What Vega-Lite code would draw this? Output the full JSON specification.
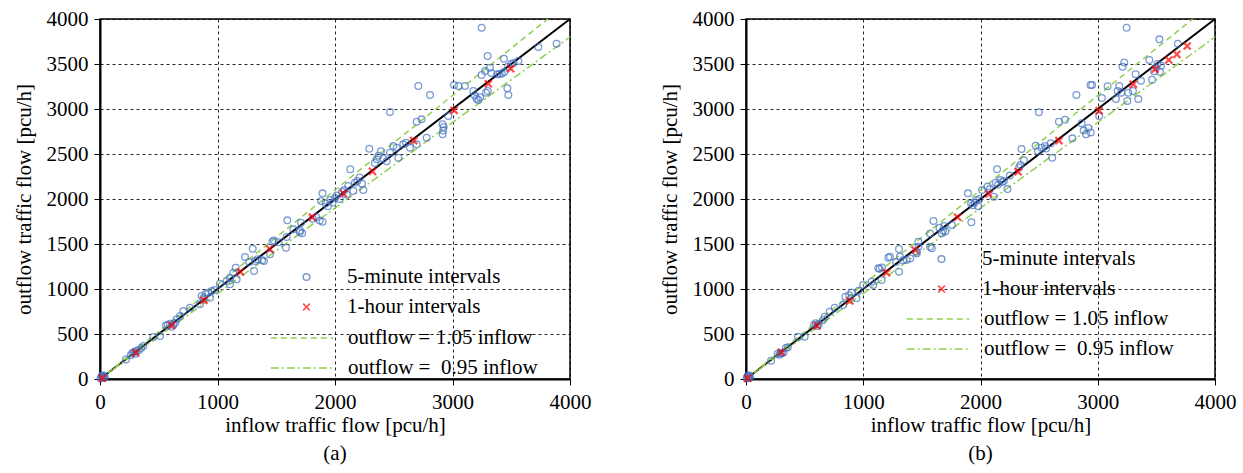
{
  "$schema": "https://vega.github.io/schema/vega-lite/v6.json",
  "background": "white",
  "padding": {"left": 12, "top": 7, "right": 5, "bottom": 5},
  "spacing": 66,
  "config": {
    "view": {"stroke": "#000", "strokeWidth": 1.5},
    "axis": {
      "domainColor": "#000", "domainWidth": 2, "tickColor": "#000", "tickSize": 6, "tickWidth": 1,
      "gridColor": "#000", "gridDash": [3, 3], "gridWidth": 1, "gridOpacity": 0.85,
      "labelFont": "Liberation Serif", "labelFontSize": 21, "labelColor": "#000", "labelPadding": 6, "format": "d", "labelFlush": false,
      "titleFont": "Liberation Serif", "titleFontSize": 21, "titleFontWeight": "normal", "titleColor": "#000"
    },
    "legend": {"labelFont": "Liberation Serif", "labelFontSize": 21, "labelColor": "#000", "labelLimit": 400},
    "title": {"font": "Liberation Serif", "fontSize": 21, "fontWeight": "normal", "color": "#000"}
  },
  "resolve": {
    "scale": {"color": "independent", "shape": "independent", "strokeDash": "independent"},
    "legend": {"color": "independent", "shape": "independent", "strokeDash": "independent"}
  },
  "datasets": {
    "lines": [
      {"ref": "y = x", "inflow": 0, "outflow": 0},
      {"ref": "y = x", "inflow": 4000, "outflow": 4000},
      {"ref": "outflow = 1.05 inflow", "inflow": 0, "outflow": 0},
      {"ref": "outflow = 1.05 inflow", "inflow": 3810, "outflow": 4000},
      {"ref": "outflow = \u00a00.95 inflow", "inflow": 0, "outflow": 0},
      {"ref": "outflow = \u00a00.95 inflow", "inflow": 4000, "outflow": 3800}
    ],
    "a": [
      {"series": "5-minute intervals", "inflow": 5, "outflow": 5},
      {"series": "5-minute intervals", "inflow": 12, "outflow": 20},
      {"series": "5-minute intervals", "inflow": 20, "outflow": 10},
      {"series": "5-minute intervals", "inflow": 25, "outflow": 30},
      {"series": "5-minute intervals", "inflow": 35, "outflow": 15},
      {"series": "5-minute intervals", "inflow": 30, "outflow": 40},
      {"series": "5-minute intervals", "inflow": 15, "outflow": 35},
      {"series": "5-minute intervals", "inflow": 40, "outflow": 25},
      {"series": "5-minute intervals", "inflow": 221, "outflow": 218},
      {"series": "5-minute intervals", "inflow": 262, "outflow": 265},
      {"series": "5-minute intervals", "inflow": 275, "outflow": 290},
      {"series": "5-minute intervals", "inflow": 290, "outflow": 300},
      {"series": "5-minute intervals", "inflow": 300, "outflow": 280},
      {"series": "5-minute intervals", "inflow": 310, "outflow": 315},
      {"series": "5-minute intervals", "inflow": 330, "outflow": 320},
      {"series": "5-minute intervals", "inflow": 350, "outflow": 345},
      {"series": "5-minute intervals", "inflow": 369, "outflow": 367},
      {"series": "5-minute intervals", "inflow": 454, "outflow": 467},
      {"series": "5-minute intervals", "inflow": 511, "outflow": 478},
      {"series": "5-minute intervals", "inflow": 560, "outflow": 595},
      {"series": "5-minute intervals", "inflow": 575, "outflow": 600},
      {"series": "5-minute intervals", "inflow": 595, "outflow": 615},
      {"series": "5-minute intervals", "inflow": 610, "outflow": 580},
      {"series": "5-minute intervals", "inflow": 625, "outflow": 600},
      {"series": "5-minute intervals", "inflow": 640, "outflow": 625},
      {"series": "5-minute intervals", "inflow": 653, "outflow": 663},
      {"series": "5-minute intervals", "inflow": 681, "outflow": 700},
      {"series": "5-minute intervals", "inflow": 709, "outflow": 756},
      {"series": "5-minute intervals", "inflow": 766, "outflow": 792},
      {"series": "5-minute intervals", "inflow": 851, "outflow": 830},
      {"series": "5-minute intervals", "inflow": 865, "outflow": 922},
      {"series": "5-minute intervals", "inflow": 880, "outflow": 900},
      {"series": "5-minute intervals", "inflow": 900, "outflow": 945},
      {"series": "5-minute intervals", "inflow": 922, "outflow": 959},
      {"series": "5-minute intervals", "inflow": 936, "outflow": 903},
      {"series": "5-minute intervals", "inflow": 950, "outflow": 978},
      {"series": "5-minute intervals", "inflow": 975, "outflow": 990},
      {"series": "5-minute intervals", "inflow": 1021, "outflow": 1059},
      {"series": "5-minute intervals", "inflow": 1078, "outflow": 1089},
      {"series": "5-minute intervals", "inflow": 1106, "outflow": 1126},
      {"series": "5-minute intervals", "inflow": 1106, "outflow": 1052},
      {"series": "5-minute intervals", "inflow": 1135, "outflow": 1181},
      {"series": "5-minute intervals", "inflow": 1155, "outflow": 1237},
      {"series": "5-minute intervals", "inflow": 1163, "outflow": 1107},
      {"series": "5-minute intervals", "inflow": 1234, "outflow": 1356},
      {"series": "5-minute intervals", "inflow": 1270, "outflow": 1300},
      {"series": "5-minute intervals", "inflow": 1300, "outflow": 1448},
      {"series": "5-minute intervals", "inflow": 1311, "outflow": 1200},
      {"series": "5-minute intervals", "inflow": 1320, "outflow": 1310},
      {"series": "5-minute intervals", "inflow": 1340, "outflow": 1330},
      {"series": "5-minute intervals", "inflow": 1380, "outflow": 1320},
      {"series": "5-minute intervals", "inflow": 1395, "outflow": 1310},
      {"series": "5-minute intervals", "inflow": 1447, "outflow": 1385},
      {"series": "5-minute intervals", "inflow": 1467, "outflow": 1526},
      {"series": "5-minute intervals", "inflow": 1480, "outflow": 1540},
      {"series": "5-minute intervals", "inflow": 1520, "outflow": 1520},
      {"series": "5-minute intervals", "inflow": 1583, "outflow": 1459},
      {"series": "5-minute intervals", "inflow": 1594, "outflow": 1763},
      {"series": "5-minute intervals", "inflow": 1588, "outflow": 1578},
      {"series": "5-minute intervals", "inflow": 1645, "outflow": 1663},
      {"series": "5-minute intervals", "inflow": 1700, "outflow": 1630},
      {"series": "5-minute intervals", "inflow": 1711, "outflow": 1737},
      {"series": "5-minute intervals", "inflow": 1702, "outflow": 1650},
      {"series": "5-minute intervals", "inflow": 1720, "outflow": 1620},
      {"series": "5-minute intervals", "inflow": 1810, "outflow": 1780},
      {"series": "5-minute intervals", "inflow": 1840, "outflow": 1800},
      {"series": "5-minute intervals", "inflow": 1870, "outflow": 1760},
      {"series": "5-minute intervals", "inflow": 1894, "outflow": 1748},
      {"series": "5-minute intervals", "inflow": 1894, "outflow": 2063},
      {"series": "5-minute intervals", "inflow": 1881, "outflow": 1978},
      {"series": "5-minute intervals", "inflow": 1920, "outflow": 1950},
      {"series": "5-minute intervals", "inflow": 1940, "outflow": 1920},
      {"series": "5-minute intervals", "inflow": 1960, "outflow": 1990},
      {"series": "5-minute intervals", "inflow": 1980, "outflow": 1960},
      {"series": "5-minute intervals", "inflow": 2000, "outflow": 2010},
      {"series": "5-minute intervals", "inflow": 2015, "outflow": 2040},
      {"series": "5-minute intervals", "inflow": 2040, "outflow": 2000},
      {"series": "5-minute intervals", "inflow": 2060, "outflow": 2080},
      {"series": "5-minute intervals", "inflow": 2080, "outflow": 2100},
      {"series": "5-minute intervals", "inflow": 2100, "outflow": 2050},
      {"series": "5-minute intervals", "inflow": 2113, "outflow": 2144},
      {"series": "5-minute intervals", "inflow": 2130, "outflow": 2330},
      {"series": "5-minute intervals", "inflow": 2156, "outflow": 2089},
      {"series": "5-minute intervals", "inflow": 2170, "outflow": 2180},
      {"series": "5-minute intervals", "inflow": 2190, "outflow": 2200},
      {"series": "5-minute intervals", "inflow": 2210, "outflow": 2240},
      {"series": "5-minute intervals", "inflow": 2230, "outflow": 2170},
      {"series": "5-minute intervals", "inflow": 2241, "outflow": 2100},
      {"series": "5-minute intervals", "inflow": 2292, "outflow": 2559},
      {"series": "5-minute intervals", "inflow": 2340, "outflow": 2400},
      {"series": "5-minute intervals", "inflow": 2355, "outflow": 2441},
      {"series": "5-minute intervals", "inflow": 2370, "outflow": 2480},
      {"series": "5-minute intervals", "inflow": 2390, "outflow": 2530},
      {"series": "5-minute intervals", "inflow": 2410, "outflow": 2450},
      {"series": "5-minute intervals", "inflow": 2440, "outflow": 2420},
      {"series": "5-minute intervals", "inflow": 2468, "outflow": 2515},
      {"series": "5-minute intervals", "inflow": 2468, "outflow": 2967},
      {"series": "5-minute intervals", "inflow": 2496, "outflow": 2589},
      {"series": "5-minute intervals", "inflow": 2525, "outflow": 2570},
      {"series": "5-minute intervals", "inflow": 2539, "outflow": 2459},
      {"series": "5-minute intervals", "inflow": 2581, "outflow": 2607},
      {"series": "5-minute intervals", "inflow": 2604, "outflow": 2626},
      {"series": "5-minute intervals", "inflow": 2638, "outflow": 2570},
      {"series": "5-minute intervals", "inflow": 2695, "outflow": 2607},
      {"series": "5-minute intervals", "inflow": 2780, "outflow": 2681},
      {"series": "5-minute intervals", "inflow": 2695, "outflow": 2859},
      {"series": "5-minute intervals", "inflow": 2737, "outflow": 2885},
      {"series": "5-minute intervals", "inflow": 2709, "outflow": 3256},
      {"series": "5-minute intervals", "inflow": 2809, "outflow": 3156},
      {"series": "5-minute intervals", "inflow": 2916, "outflow": 2720},
      {"series": "5-minute intervals", "inflow": 2920, "outflow": 2760},
      {"series": "5-minute intervals", "inflow": 2925, "outflow": 2800},
      {"series": "5-minute intervals", "inflow": 2916, "outflow": 2830},
      {"series": "5-minute intervals", "inflow": 2965, "outflow": 2922},
      {"series": "5-minute intervals", "inflow": 3013, "outflow": 3267},
      {"series": "5-minute intervals", "inflow": 3050, "outflow": 3256},
      {"series": "5-minute intervals", "inflow": 3106, "outflow": 3256},
      {"series": "5-minute intervals", "inflow": 3177, "outflow": 3200},
      {"series": "5-minute intervals", "inflow": 3205, "outflow": 3115},
      {"series": "5-minute intervals", "inflow": 3220, "outflow": 3100},
      {"series": "5-minute intervals", "inflow": 3235, "outflow": 3130},
      {"series": "5-minute intervals", "inflow": 3190, "outflow": 3150},
      {"series": "5-minute intervals", "inflow": 3248, "outflow": 3378},
      {"series": "5-minute intervals", "inflow": 3248, "outflow": 3904},
      {"series": "5-minute intervals", "inflow": 3277, "outflow": 3422},
      {"series": "5-minute intervals", "inflow": 3285, "outflow": 3181},
      {"series": "5-minute intervals", "inflow": 3300, "outflow": 3200},
      {"series": "5-minute intervals", "inflow": 3299, "outflow": 3589},
      {"series": "5-minute intervals", "inflow": 3319, "outflow": 3459},
      {"series": "5-minute intervals", "inflow": 3330, "outflow": 3400},
      {"series": "5-minute intervals", "inflow": 3380, "outflow": 3385},
      {"series": "5-minute intervals", "inflow": 3400, "outflow": 3390},
      {"series": "5-minute intervals", "inflow": 3420, "outflow": 3395},
      {"series": "5-minute intervals", "inflow": 3440, "outflow": 3410},
      {"series": "5-minute intervals", "inflow": 3438, "outflow": 3559},
      {"series": "5-minute intervals", "inflow": 3467, "outflow": 3230},
      {"series": "5-minute intervals", "inflow": 3475, "outflow": 3156},
      {"series": "5-minute intervals", "inflow": 3470, "outflow": 3470},
      {"series": "5-minute intervals", "inflow": 3500, "outflow": 3500},
      {"series": "5-minute intervals", "inflow": 3520, "outflow": 3510},
      {"series": "5-minute intervals", "inflow": 3560, "outflow": 3533},
      {"series": "5-minute intervals", "inflow": 3730, "outflow": 3689},
      {"series": "5-minute intervals", "inflow": 3886, "outflow": 3726},
      {"series": "1-hour intervals", "inflow": 20, "outflow": 10},
      {"series": "1-hour intervals", "inflow": 304, "outflow": 292},
      {"series": "1-hour intervals", "inflow": 610, "outflow": 597},
      {"series": "1-hour intervals", "inflow": 885, "outflow": 874},
      {"series": "1-hour intervals", "inflow": 1195, "outflow": 1190},
      {"series": "1-hour intervals", "inflow": 1444, "outflow": 1444},
      {"series": "1-hour intervals", "inflow": 1807, "outflow": 1798},
      {"series": "1-hour intervals", "inflow": 2072, "outflow": 2061},
      {"series": "1-hour intervals", "inflow": 2319, "outflow": 2307},
      {"series": "1-hour intervals", "inflow": 2670, "outflow": 2648},
      {"series": "1-hour intervals", "inflow": 3013, "outflow": 2985},
      {"series": "1-hour intervals", "inflow": 3305, "outflow": 3281},
      {"series": "1-hour intervals", "inflow": 3495, "outflow": 3448}
    ],
    "b": [
      {"series": "5-minute intervals", "inflow": 5, "outflow": 5},
      {"series": "5-minute intervals", "inflow": 12, "outflow": 20},
      {"series": "5-minute intervals", "inflow": 20, "outflow": 10},
      {"series": "5-minute intervals", "inflow": 25, "outflow": 30},
      {"series": "5-minute intervals", "inflow": 35, "outflow": 15},
      {"series": "5-minute intervals", "inflow": 30, "outflow": 40},
      {"series": "5-minute intervals", "inflow": 15, "outflow": 35},
      {"series": "5-minute intervals", "inflow": 214, "outflow": 204},
      {"series": "5-minute intervals", "inflow": 270, "outflow": 280},
      {"series": "5-minute intervals", "inflow": 285, "outflow": 270},
      {"series": "5-minute intervals", "inflow": 295, "outflow": 290},
      {"series": "5-minute intervals", "inflow": 305, "outflow": 285},
      {"series": "5-minute intervals", "inflow": 320, "outflow": 295},
      {"series": "5-minute intervals", "inflow": 340, "outflow": 345},
      {"series": "5-minute intervals", "inflow": 357, "outflow": 352},
      {"series": "5-minute intervals", "inflow": 443, "outflow": 470},
      {"series": "5-minute intervals", "inflow": 500, "outflow": 470},
      {"series": "5-minute intervals", "inflow": 580, "outflow": 600},
      {"series": "5-minute intervals", "inflow": 595, "outflow": 620},
      {"series": "5-minute intervals", "inflow": 610, "outflow": 590},
      {"series": "5-minute intervals", "inflow": 620, "outflow": 610},
      {"series": "5-minute intervals", "inflow": 657, "outflow": 656},
      {"series": "5-minute intervals", "inflow": 671, "outflow": 692},
      {"series": "5-minute intervals", "inflow": 714, "outflow": 748},
      {"series": "5-minute intervals", "inflow": 757, "outflow": 792},
      {"series": "5-minute intervals", "inflow": 828, "outflow": 822},
      {"series": "5-minute intervals", "inflow": 848, "outflow": 915},
      {"series": "5-minute intervals", "inflow": 880, "outflow": 930},
      {"series": "5-minute intervals", "inflow": 900, "outflow": 960},
      {"series": "5-minute intervals", "inflow": 942, "outflow": 897},
      {"series": "5-minute intervals", "inflow": 960, "outflow": 980},
      {"series": "5-minute intervals", "inflow": 999, "outflow": 1044},
      {"series": "5-minute intervals", "inflow": 1071, "outflow": 1081},
      {"series": "5-minute intervals", "inflow": 1085, "outflow": 1044},
      {"series": "5-minute intervals", "inflow": 1128, "outflow": 1230},
      {"series": "5-minute intervals", "inflow": 1140, "outflow": 1225},
      {"series": "5-minute intervals", "inflow": 1156, "outflow": 1100},
      {"series": "5-minute intervals", "inflow": 1160, "outflow": 1240},
      {"series": "5-minute intervals", "inflow": 1214, "outflow": 1348},
      {"series": "5-minute intervals", "inflow": 1228, "outflow": 1359},
      {"series": "5-minute intervals", "inflow": 1280, "outflow": 1300},
      {"series": "5-minute intervals", "inflow": 1305, "outflow": 1193},
      {"series": "5-minute intervals", "inflow": 1305, "outflow": 1444},
      {"series": "5-minute intervals", "inflow": 1313, "outflow": 1359},
      {"series": "5-minute intervals", "inflow": 1340, "outflow": 1320},
      {"series": "5-minute intervals", "inflow": 1370, "outflow": 1322},
      {"series": "5-minute intervals", "inflow": 1400, "outflow": 1340},
      {"series": "5-minute intervals", "inflow": 1456, "outflow": 1415},
      {"series": "5-minute intervals", "inflow": 1456, "outflow": 1396},
      {"series": "5-minute intervals", "inflow": 1470, "outflow": 1470},
      {"series": "5-minute intervals", "inflow": 1470, "outflow": 1526},
      {"series": "5-minute intervals", "inflow": 1570, "outflow": 1618},
      {"series": "5-minute intervals", "inflow": 1570, "outflow": 1470},
      {"series": "5-minute intervals", "inflow": 1585, "outflow": 1452},
      {"series": "5-minute intervals", "inflow": 1599, "outflow": 1756},
      {"series": "5-minute intervals", "inflow": 1650, "outflow": 1680},
      {"series": "5-minute intervals", "inflow": 1670, "outflow": 1620},
      {"series": "5-minute intervals", "inflow": 1690, "outflow": 1700},
      {"series": "5-minute intervals", "inflow": 1700, "outflow": 1640},
      {"series": "5-minute intervals", "inflow": 1680, "outflow": 1650},
      {"series": "5-minute intervals", "inflow": 1756, "outflow": 1711},
      {"series": "5-minute intervals", "inflow": 1893, "outflow": 2063},
      {"series": "5-minute intervals", "inflow": 1922, "outflow": 1741},
      {"series": "5-minute intervals", "inflow": 1920, "outflow": 1950},
      {"series": "5-minute intervals", "inflow": 1935, "outflow": 1930},
      {"series": "5-minute intervals", "inflow": 1950, "outflow": 1960},
      {"series": "5-minute intervals", "inflow": 1965, "outflow": 1990},
      {"series": "5-minute intervals", "inflow": 1980, "outflow": 1920},
      {"series": "5-minute intervals", "inflow": 1990, "outflow": 2000},
      {"series": "5-minute intervals", "inflow": 2013, "outflow": 2100},
      {"series": "5-minute intervals", "inflow": 2060, "outflow": 2140},
      {"series": "5-minute intervals", "inflow": 2080, "outflow": 2110},
      {"series": "5-minute intervals", "inflow": 2113, "outflow": 2026},
      {"series": "5-minute intervals", "inflow": 2130, "outflow": 2180},
      {"series": "5-minute intervals", "inflow": 2141, "outflow": 2330},
      {"series": "5-minute intervals", "inflow": 2150, "outflow": 2160},
      {"series": "5-minute intervals", "inflow": 2170, "outflow": 2211},
      {"series": "5-minute intervals", "inflow": 2185, "outflow": 2190},
      {"series": "5-minute intervals", "inflow": 2200, "outflow": 2200},
      {"series": "5-minute intervals", "inflow": 2230, "outflow": 2110},
      {"series": "5-minute intervals", "inflow": 2250, "outflow": 2260},
      {"series": "5-minute intervals", "inflow": 2330, "outflow": 2350},
      {"series": "5-minute intervals", "inflow": 2341, "outflow": 2378},
      {"series": "5-minute intervals", "inflow": 2350, "outflow": 2556},
      {"series": "5-minute intervals", "inflow": 2370, "outflow": 2430},
      {"series": "5-minute intervals", "inflow": 2470, "outflow": 2593},
      {"series": "5-minute intervals", "inflow": 2490, "outflow": 2530},
      {"series": "5-minute intervals", "inflow": 2498, "outflow": 2963},
      {"series": "5-minute intervals", "inflow": 2520, "outflow": 2570},
      {"series": "5-minute intervals", "inflow": 2550, "outflow": 2590},
      {"series": "5-minute intervals", "inflow": 2560, "outflow": 2560},
      {"series": "5-minute intervals", "inflow": 2600, "outflow": 2620},
      {"series": "5-minute intervals", "inflow": 2612, "outflow": 2459},
      {"series": "5-minute intervals", "inflow": 2669, "outflow": 2859},
      {"series": "5-minute intervals", "inflow": 2721, "outflow": 2880},
      {"series": "5-minute intervals", "inflow": 2784, "outflow": 2674},
      {"series": "5-minute intervals", "inflow": 2818, "outflow": 3156},
      {"series": "5-minute intervals", "inflow": 2863, "outflow": 2841},
      {"series": "5-minute intervals", "inflow": 2880, "outflow": 2760},
      {"series": "5-minute intervals", "inflow": 2900, "outflow": 2720},
      {"series": "5-minute intervals", "inflow": 2920, "outflow": 2790},
      {"series": "5-minute intervals", "inflow": 2940, "outflow": 2740},
      {"series": "5-minute intervals", "inflow": 2938, "outflow": 3267},
      {"series": "5-minute intervals", "inflow": 2952, "outflow": 3267},
      {"series": "5-minute intervals", "inflow": 3012, "outflow": 2922},
      {"series": "5-minute intervals", "inflow": 3035, "outflow": 3122},
      {"series": "5-minute intervals", "inflow": 3084, "outflow": 3252},
      {"series": "5-minute intervals", "inflow": 3155, "outflow": 3111},
      {"series": "5-minute intervals", "inflow": 3183, "outflow": 3256},
      {"series": "5-minute intervals", "inflow": 3170, "outflow": 3200},
      {"series": "5-minute intervals", "inflow": 3200, "outflow": 3180},
      {"series": "5-minute intervals", "inflow": 3212, "outflow": 3470},
      {"series": "5-minute intervals", "inflow": 3226, "outflow": 3517},
      {"series": "5-minute intervals", "inflow": 3246, "outflow": 3903},
      {"series": "5-minute intervals", "inflow": 3252, "outflow": 3090},
      {"series": "5-minute intervals", "inflow": 3260, "outflow": 3180},
      {"series": "5-minute intervals", "inflow": 3300, "outflow": 3200},
      {"series": "5-minute intervals", "inflow": 3323, "outflow": 3387},
      {"series": "5-minute intervals", "inflow": 3346, "outflow": 3110},
      {"series": "5-minute intervals", "inflow": 3369, "outflow": 3313},
      {"series": "5-minute intervals", "inflow": 3440, "outflow": 3544},
      {"series": "5-minute intervals", "inflow": 3463, "outflow": 3326},
      {"series": "5-minute intervals", "inflow": 3480, "outflow": 3420},
      {"series": "5-minute intervals", "inflow": 3500, "outflow": 3460},
      {"series": "5-minute intervals", "inflow": 3510, "outflow": 3500},
      {"series": "5-minute intervals", "inflow": 3530, "outflow": 3415},
      {"series": "5-minute intervals", "inflow": 3526, "outflow": 3774},
      {"series": "5-minute intervals", "inflow": 3540, "outflow": 3480},
      {"series": "5-minute intervals", "inflow": 3683, "outflow": 3726},
      {"series": "1-hour intervals", "inflow": 14, "outflow": 8},
      {"series": "1-hour intervals", "inflow": 300, "outflow": 297},
      {"series": "1-hour intervals", "inflow": 606, "outflow": 592},
      {"series": "1-hour intervals", "inflow": 886, "outflow": 867},
      {"series": "1-hour intervals", "inflow": 1199, "outflow": 1181},
      {"series": "1-hour intervals", "inflow": 1442, "outflow": 1433},
      {"series": "1-hour intervals", "inflow": 1805, "outflow": 1797},
      {"series": "1-hour intervals", "inflow": 2070, "outflow": 2056},
      {"series": "1-hour intervals", "inflow": 2321, "outflow": 2303},
      {"series": "1-hour intervals", "inflow": 2669, "outflow": 2648},
      {"series": "1-hour intervals", "inflow": 3012, "outflow": 2981},
      {"series": "1-hour intervals", "inflow": 3303, "outflow": 3274},
      {"series": "1-hour intervals", "inflow": 3489, "outflow": 3441},
      {"series": "1-hour intervals", "inflow": 3606, "outflow": 3544},
      {"series": "1-hour intervals", "inflow": 3675, "outflow": 3607},
      {"series": "1-hour intervals", "inflow": 3763, "outflow": 3700}
    ]
  },
  "hconcat": [
    {
      "width": 470, "height": 360,
      "title": {"text": "(a)", "orient": "bottom", "anchor": "middle", "offset": 8},
      "layer": [
        {
          "data": {"name": "lines"},
          "transform": [{"filter": "datum.ref === 'y = x'"}],
          "mark": {"type": "line", "color": "#000", "strokeWidth": 2},
          "encoding": {
            "x": {"field": "inflow", "type": "quantitative", "scale": {"domain": [0, 4000], "nice": false}, "axis": {"values": [0, 1000, 2000, 3000, 4000], "title": "inflow traffic flow [pcu/h]", "titlePadding": 2}},
            "y": {"field": "outflow", "type": "quantitative", "scale": {"domain": [0, 4000], "nice": false}, "axis": {"values": [0, 500, 1000, 1500, 2000, 2500, 3000, 3500, 4000], "title": "outflow traffic flow [pcu/h]", "titlePadding": 12}}
          }
        },
        {
          "data": {"name": "lines"},
          "transform": [{"filter": "datum.ref !== 'y = x'"}],
          "mark": {"type": "line", "color": "#92d050", "strokeWidth": 1.5},
          "encoding": {
            "x": {"field": "inflow", "type": "quantitative"},
            "y": {"field": "outflow", "type": "quantitative"},
            "strokeDash": {"field": "ref", "type": "nominal",
              "scale": {"domain": ["outflow = 1.05 inflow", "outflow = \u00a00.95 inflow"], "range": [[6, 4], [8, 3, 2, 3]]},
              "legend": {"title": null, "orient": "none", "legendX": 170, "legendY": 308, "symbolType": "stroke", "symbolSize": 3900, "symbolStrokeColor": "#92d050", "symbolStrokeWidth": 1.5, "labelOffset": 14, "rowPadding": 8, "clipHeight": 22}}
          }
        },
        {
          "data": {"name": "a"},
          "transform": [{"filter": "datum.series === '5-minute intervals'"}],
          "mark": {"type": "point", "filled": false, "size": 45, "strokeWidth": 1.3},
          "encoding": {
            "x": {"field": "inflow", "type": "quantitative"},
            "y": {"field": "outflow", "type": "quantitative"},
            "color": {"field": "series", "type": "nominal",
              "scale": {"domain": ["5-minute intervals", "1-hour intervals"], "range": ["#4472c4", "#ff0000"]},
              "legend": {"title": null, "orient": "none", "legendX": 196, "legendY": 247, "symbolSize": 45, "labelOffset": 30, "rowPadding": 8, "clipHeight": 22}},
            "shape": {"field": "series", "type": "nominal",
              "scale": {"domain": ["5-minute intervals", "1-hour intervals"], "range": ["circle", "M-1,-1L1,1M-1,1L1,-1"]},
              "legend": {"title": null, "orient": "none", "legendX": 196, "legendY": 247, "symbolSize": 45, "labelOffset": 30, "rowPadding": 8, "clipHeight": 22}}
          }
        },
        {
          "data": {"name": "a"},
          "transform": [{"filter": "datum.series === '1-hour intervals'"}],
          "mark": {"type": "point", "filled": false, "size": 50, "strokeWidth": 2.2},
          "encoding": {
            "x": {"field": "inflow", "type": "quantitative"},
            "y": {"field": "outflow", "type": "quantitative"},
            "color": {"field": "series", "type": "nominal"},
            "shape": {"field": "series", "type": "nominal"}
          }
        }
      ]
    },
    {
      "width": 469, "height": 360,
      "title": {"text": "(b)", "orient": "bottom", "anchor": "middle", "offset": 8},
      "layer": [
        {
          "data": {"name": "lines"},
          "transform": [{"filter": "datum.ref === 'y = x'"}],
          "mark": {"type": "line", "color": "#000", "strokeWidth": 2},
          "encoding": {
            "x": {"field": "inflow", "type": "quantitative", "scale": {"domain": [0, 4000], "nice": false}, "axis": {"values": [0, 1000, 2000, 3000, 4000], "title": "inflow traffic flow [pcu/h]", "titlePadding": 2}},
            "y": {"field": "outflow", "type": "quantitative", "scale": {"domain": [0, 4000], "nice": false}, "axis": {"values": [0, 500, 1000, 1500, 2000, 2500, 3000, 3500, 4000], "title": "outflow traffic flow [pcu/h]", "titlePadding": 12}}
          }
        },
        {
          "data": {"name": "lines"},
          "transform": [{"filter": "datum.ref !== 'y = x'"}],
          "mark": {"type": "line", "color": "#92d050", "strokeWidth": 1.5},
          "encoding": {
            "x": {"field": "inflow", "type": "quantitative"},
            "y": {"field": "outflow", "type": "quantitative"},
            "strokeDash": {"field": "ref", "type": "nominal",
              "scale": {"domain": ["outflow = 1.05 inflow", "outflow = \u00a00.95 inflow"], "range": [[6, 4], [8, 3, 2, 3]]},
              "legend": {"title": null, "orient": "none", "legendX": 160, "legendY": 289, "symbolType": "stroke", "symbolSize": 3900, "symbolStrokeColor": "#92d050", "symbolStrokeWidth": 1.5, "labelOffset": 14, "rowPadding": 8, "clipHeight": 22}}
          }
        },
        {
          "data": {"name": "b"},
          "transform": [{"filter": "datum.series === '5-minute intervals'"}],
          "mark": {"type": "point", "filled": false, "size": 45, "strokeWidth": 1.3},
          "encoding": {
            "x": {"field": "inflow", "type": "quantitative"},
            "y": {"field": "outflow", "type": "quantitative"},
            "color": {"field": "series", "type": "nominal",
              "scale": {"domain": ["5-minute intervals", "1-hour intervals"], "range": ["#4472c4", "#ff0000"]},
              "legend": {"title": null, "orient": "none", "legendX": 185, "legendY": 229, "symbolSize": 45, "labelOffset": 30, "rowPadding": 8, "clipHeight": 22}},
            "shape": {"field": "series", "type": "nominal",
              "scale": {"domain": ["5-minute intervals", "1-hour intervals"], "range": ["circle", "M-1,-1L1,1M-1,1L1,-1"]},
              "legend": {"title": null, "orient": "none", "legendX": 185, "legendY": 229, "symbolSize": 45, "labelOffset": 30, "rowPadding": 8, "clipHeight": 22}}
          }
        },
        {
          "data": {"name": "b"},
          "transform": [{"filter": "datum.series === '1-hour intervals'"}],
          "mark": {"type": "point", "filled": false, "size": 50, "strokeWidth": 2.2},
          "encoding": {
            "x": {"field": "inflow", "type": "quantitative"},
            "y": {"field": "outflow", "type": "quantitative"},
            "color": {"field": "series", "type": "nominal"},
            "shape": {"field": "series", "type": "nominal"}
          }
        }
      ]
    }
  ]
}
